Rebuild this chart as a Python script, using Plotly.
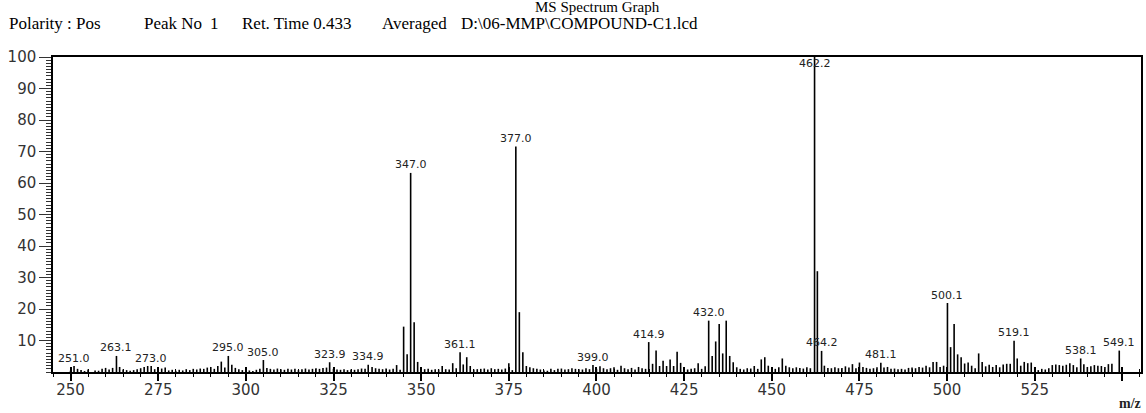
import plotly.graph_objects as go

# m/z values 250..549 (integer bins) and relative intensities
mz_start = 250
intensity = [
    # 250-259
    0.4, 1.9, 1.0, 0.6, 0.3, 0.8, 0.0, 0.5, 0.4, 1.0,
    # 260-269
    1.3, 0.8, 1.3, 5.1, 1.6, 0.8, 0.6, 0.4, 0.6, 0.9,
    # 270-279
    1.2, 1.6, 1.9, 1.9, 0.9, 1.0, 1.1, 1.4, 0.5, 0.7,
    # 280-289
    0.4, 0.7, 0.5, 0.9, 0.6, 1.0, 0.8, 1.1, 1.0, 1.4,
    # 290-299
    1.6, 1.0, 1.9, 3.3, 1.4, 5.1, 2.3, 1.3, 0.9, 0.6,
    # 300-309
    0.4, 0.5, 0.3, 0.7, 1.0, 3.8, 1.3, 1.0, 0.8, 1.1,
    # 310-319
    0.9, 0.7, 1.0, 0.8, 1.0, 0.6, 0.9, 1.1, 0.8, 1.0,
    # 320-329
    1.2, 1.0, 1.3, 1.4, 3.1, 1.0, 0.8, 0.7, 0.9, 0.6,
    # 330-339
    0.8, 0.7, 0.9, 1.1, 1.0, 2.3, 1.6, 1.2, 1.0, 0.9,
    # 340-349
    1.1, 0.8, 1.0, 2.2, 0.7, 14.4, 5.6, 63.2, 15.8, 3.2,
    # 350-359
    1.2, 0.9, 1.0, 0.7, 0.9, 0.8, 1.9, 0.9, 0.8, 2.8,
    # 360-369
    1.2, 6.3, 2.4, 4.7, 1.9, 0.8, 0.9, 1.0, 1.1, 0.8,
    # 370-379
    1.2, 0.9, 1.0, 0.8, 1.1, 2.8, 0.6, 71.6, 19.0, 6.3,
    # 380-389
    1.9, 1.5, 1.2, 1.0, 0.8, 0.5, 0.4, 1.0, 0.6, 1.0,
    # 390-399
    1.1, 0.8, 0.9, 1.2, 1.0, 0.9, 0.8, 1.2, 0.9, 2.2,
    # 400-409
    1.0, 1.8, 1.2, 0.9, 1.2, 1.5, 0.7, 2.0, 1.2, 0.9,
    # 410-419
    1.3, 0.8, 1.6, 1.2, 1.0, 9.5, 2.6, 6.8, 1.9, 3.6,
    # 420-429
    1.9, 4.0, 1.9, 6.4, 2.9, 1.5, 0.8, 1.0, 1.2, 2.8,
    # 430-439
    1.0, 1.8, 16.3, 5.1, 9.7, 15.2, 5.9, 16.3, 5.1, 3.1,
    # 440-449
    1.5, 1.0, 0.8, 1.2, 1.1, 1.9, 1.0, 4.0, 4.7, 2.0,
    # 450-459
    1.4, 1.0, 1.5, 4.3, 2.0, 1.5, 1.2, 1.5, 1.3, 1.1,
    # 460-469
    1.5, 1.2, 100.0, 32.0, 6.7, 2.0, 1.3, 1.2, 1.5, 1.2,
    # 470-479
    1.3, 1.8, 1.4, 2.5, 1.2, 3.0, 1.6, 1.3, 1.0, 1.2,
    # 480-489
    1.5, 2.9, 1.4, 1.6, 1.0, 1.1, 0.9, 1.0, 0.8, 1.3,
    # 490-499
    1.4, 1.2, 1.6, 1.4, 2.0, 1.5, 3.2, 3.2, 1.6, 2.0,
    # 500-509
    21.9, 7.9, 15.2, 5.6, 4.7, 2.7, 3.0, 2.0, 1.2, 5.9,
    # 510-519
    3.2, 1.8, 2.3, 1.6, 2.2, 1.5, 2.4, 2.6, 2.6, 9.9,
    # 520-529
    4.3, 2.0, 3.2, 2.8, 3.0, 1.6, 0.6, 1.0, 0.8, 1.2,
    # 530-539
    2.2, 2.4, 2.2, 2.0, 2.3, 2.8, 2.2, 1.5, 4.3, 2.5,
    # 540-549
    1.6, 1.8, 2.2, 2.0, 1.9, 1.6, 2.5, 2.6, 0.0, 6.8,
]

# labelled peaks: exact m/z from the labels
label_mz = [251.0, 263.1, 273.0, 295.0, 305.0, 323.9, 334.9, 347.0, 361.1, 377.0,
            399.0, 414.9, 432.0, 462.2, 464.2, 481.1, 500.1, 519.1, 538.1, 549.1]

mz = [mz_start + i for i in range(len(intensity))]
# replace the integer position of labelled peaks with the labelled value
mz_exact = list(mz)
for lm in label_mz:
    idx = int(round(lm)) - mz_start
    mz_exact[idx] = lm

stick_x, stick_y = [], []
for x, y in zip(mz_exact, intensity):
    if y <= 0:
        continue
    stick_x += [x, x, None]
    stick_y += [0, y, None]

fig = go.Figure()
fig.add_trace(go.Scatter(
    x=stick_x, y=stick_y, mode='lines',
    line=dict(color='black', width=1.6),
    hoverinfo='skip', showlegend=False,
))
# invisible trace on the overlay axis so its inside ticks draw
fig.add_trace(go.Scatter(x=[250], y=[0], xaxis='x2', mode='markers',
                         marker=dict(opacity=0), showlegend=False, hoverinfo='skip'))

label_font = dict(family='DejaVu Sans', size=11, color='#222')
for lm in label_mz:
    h = intensity[int(round(lm)) - mz_start]
    if h >= 100:
        fig.add_annotation(x=lm, y=h, text=f'{lm:.1f}', showarrow=False,
                           font=label_font, yanchor='middle', yshift=-6)
    else:
        fig.add_annotation(x=lm, y=h, text=f'{lm:.1f}', showarrow=False,
                           font=label_font, yanchor='middle', yshift=8)

x_range = [245, 555.3]
x_ticks = list(range(250, 551, 25))
x_text = [str(t) if t < 550 else '' for t in x_ticks]
tick_font = dict(family='DejaVu Sans', size=15, color='#333')

fig.update_layout(
    width=1146, height=413,
    margin=dict(l=53, r=3, t=57, b=41),
    plot_bgcolor='white', paper_bgcolor='white',
    xaxis=dict(
        range=x_range, tickmode='array', tickvals=x_ticks, ticktext=x_text,
        ticks='outside', ticklen=7, tickwidth=1.5, tickcolor='black',
        ticklabelstandoff=-4,
        minor=dict(tickmode='linear', tick0=250, dtick=5, ticks='outside',
                   ticklen=3, tickwidth=1, tickcolor='black'),
        showgrid=False, zeroline=False,
        showline=True, linecolor='black', linewidth=1.5, mirror=True,
        tickfont=tick_font,
    ),
    xaxis2=dict(
        range=x_range, overlaying='x', side='bottom', anchor='y',
        tickmode='array', tickvals=x_ticks, showticklabels=False,
        ticks='inside', ticklen=5, tickwidth=1.5, tickcolor='black',
        minor=dict(tickmode='linear', tick0=250, dtick=5, ticks='inside',
                   ticklen=3, tickwidth=1, tickcolor='black'),
        showgrid=False, zeroline=False, showline=False,
    ),
    yaxis=dict(
        range=[0, 100], tickmode='array', tickvals=list(range(10, 101, 10)),
        ticks='outside', ticklen=12, tickwidth=1.2, tickcolor='#333',
        minor=dict(tickmode='linear', tick0=0, dtick=1, ticks='outside',
                   ticklen=5, tickwidth=1, tickcolor='#333'),
        showgrid=False, zeroline=False,
        showline=True, linecolor='black', linewidth=1.5, mirror=True,
        tickfont=tick_font,
    ),
)

fig.add_annotation(text='MS Spectrum Graph', xref='paper', yref='paper',
                   x=(599 - 53) / 1090, y=1, yshift=50, showarrow=False,
                   font=dict(family='Liberation Serif', size=15, color='black'),
                   xanchor='center', yanchor='middle')

header_font = dict(family='Liberation Serif', size=17, color='black')
header_parts = [
    ('Polarity : Pos', 7),
    ('Peak No', 142),
    ('1', 208),
    ('Ret. Time 0.433', 240),
    ('Averaged', 381),
    ('D:\\06-MMP\\COMPOUND-C1.lcd', 460),
]
for txt, px in header_parts:
    fig.add_annotation(text=txt, xref='paper', yref='paper',
                       x=(px - 53) / 1090, y=1, yshift=34, showarrow=False,
                       font=header_font, xanchor='left', yanchor='middle')

fig.add_annotation(text='<b>m/z</b>', xref='paper', yref='paper',
                   x=1, y=0, yshift=-31, xshift=2, showarrow=False,
                   font=dict(family='Liberation Serif', size=14, color='#222'),
                   xanchor='right', yanchor='middle')

fig.write_html('out.html', config={'displayModeBar': False},
               post_script="document.body.style.margin='0';")
